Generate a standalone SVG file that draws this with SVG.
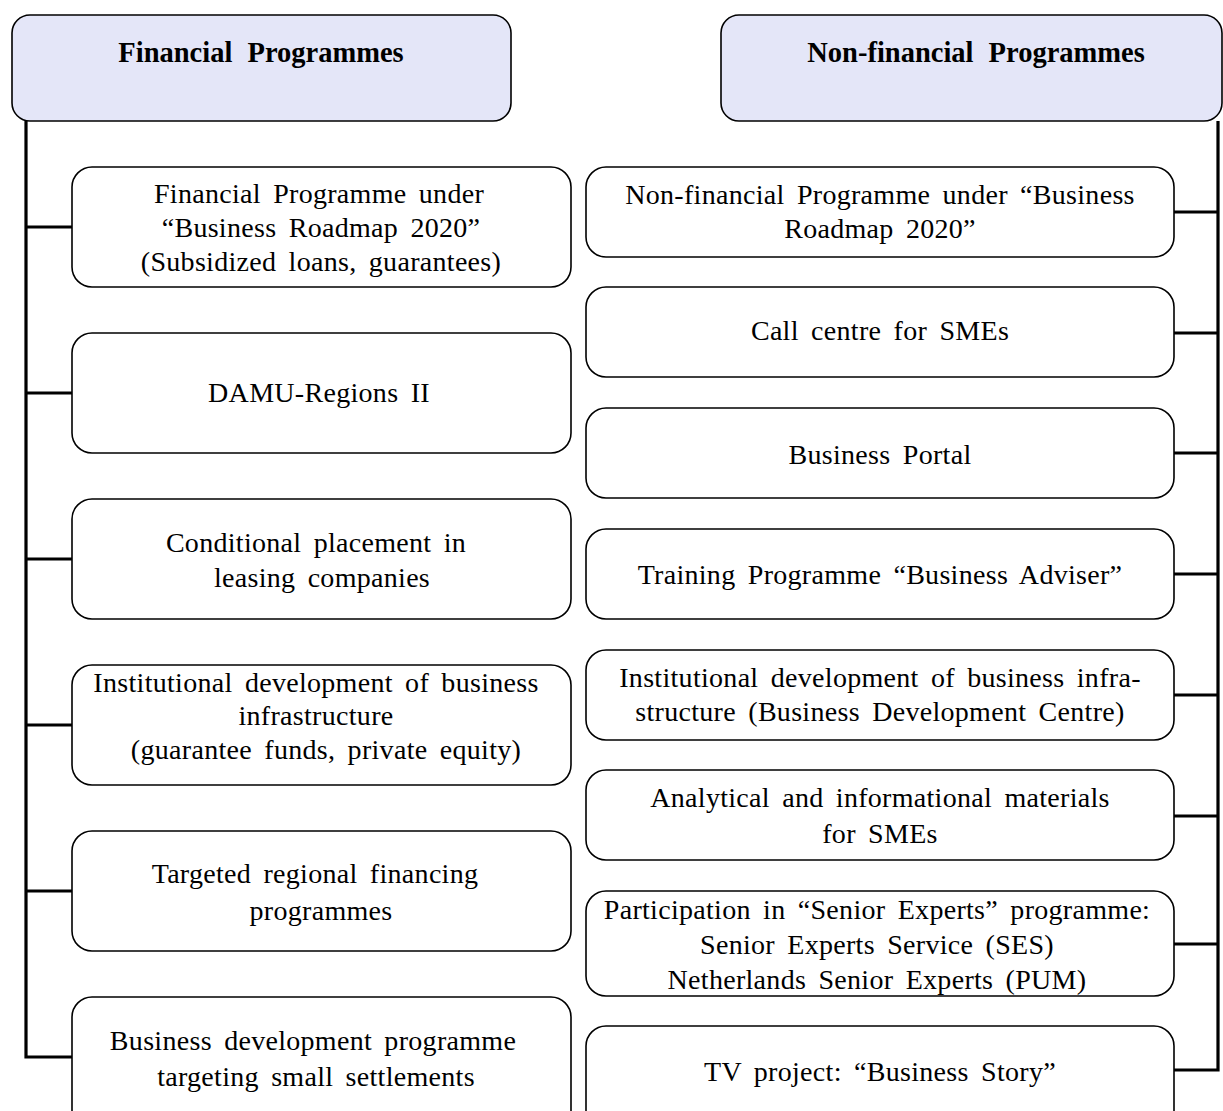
<svg xmlns="http://www.w3.org/2000/svg" width="1223" height="1111" viewBox="0 0 1223 1111">
<style>
.hdr{fill:#e4e6f8;stroke:#000;stroke-width:1.6}
.box{fill:#fff;stroke:#000;stroke-width:1.6}
.ht{font-family:"Liberation Serif","Times New Roman",serif;font-weight:bold;font-size:28.5px;text-anchor:middle;word-spacing:8px}
.t{font-family:"Liberation Serif","Times New Roman",serif;font-size:28px;text-anchor:middle;word-spacing:5px;letter-spacing:0.3px}
.c{fill:none;stroke:#000;stroke-width:3.2}
</style>
<rect width="1223" height="1111" fill="#fff"/>
<g id="connectors">
<path class="c" d="M26 121 V1057 H72"/>
<path class="c" d="M26 227 H72 M26 393 H72 M26 559 H72 M26 725 H72 M26 891 H72"/>
<path class="c" d="M1218 121 V1070 H1174"/>
<path class="c" d="M1218 212 H1174 M1218 333 H1174 M1218 453 H1174 M1218 574 H1174 M1218 695 H1174 M1218 816 H1174 M1218 944 H1174"/>
</g>
<g id="hdr-fin"><rect class="hdr" x="12" y="15" width="499" height="106" rx="18"/><text class="ht" x="261" y="62">Financial Programmes</text></g>
<g id="hdr-nonfin"><rect class="hdr" x="721" y="15" width="501" height="106" rx="18"/><text class="ht" x="976" y="62">Non-financial Programmes</text></g>

<g id="f1"><rect class="box" x="72" y="167" width="499" height="120" rx="20"/>
<text class="t" x="319" y="203">Financial Programme under</text>
<text class="t" x="321" y="237">“Business Roadmap 2020”</text>
<text class="t" x="321" y="271">(Subsidized loans, guarantees)</text></g>
<g id="f2"><rect class="box" x="72" y="333" width="499" height="120" rx="20"/>
<text class="t" x="319" y="402">DAMU-Regions II</text></g>
<g id="f3"><rect class="box" x="72" y="499" width="499" height="120" rx="20"/>
<text class="t" x="316" y="552">Conditional placement in</text>
<text class="t" x="322" y="587">leasing companies</text></g>
<g id="f4"><rect class="box" x="72" y="665" width="499" height="120" rx="20"/>
<text class="t" x="316" y="692">Institutional development of business</text>
<text class="t" x="316" y="725">infrastructure</text>
<text class="t" x="326" y="759">(guarantee funds, private equity)</text></g>
<g id="f5"><rect class="box" x="72" y="831" width="499" height="120" rx="20"/>
<text class="t" x="315" y="883">Targeted regional financing</text>
<text class="t" x="321" y="920">programmes</text></g>
<g id="f6"><rect class="box" x="72" y="997" width="499" height="140" rx="20"/>
<text class="t" x="313" y="1050">Business development programme</text>
<text class="t" x="316" y="1086">targeting small settlements</text></g>

<g id="n1"><rect class="box" x="586" y="167" width="588" height="90" rx="20"/>
<text class="t" x="880" y="204">Non-financial Programme under “Business</text>
<text class="t" x="880" y="238">Roadmap 2020”</text></g>
<g id="n2"><rect class="box" x="586" y="287" width="588" height="90" rx="20"/>
<text class="t" x="880" y="340">Call centre for SMEs</text></g>
<g id="n3"><rect class="box" x="586" y="408" width="588" height="90" rx="20"/>
<text class="t" x="880" y="464">Business Portal</text></g>
<g id="n4"><rect class="box" x="586" y="529" width="588" height="90" rx="20"/>
<text class="t" x="880" y="584">Training Programme “Business Adviser”</text></g>
<g id="n5"><rect class="box" x="586" y="650" width="588" height="90" rx="20"/>
<text class="t" x="880" y="687">Institutional development of business infra-</text>
<text class="t" x="880" y="721">structure (Business Development Centre)</text></g>
<g id="n6"><rect class="box" x="586" y="770" width="588" height="90" rx="20"/>
<text class="t" x="880" y="807">Analytical and informational materials</text>
<text class="t" x="880" y="843">for SMEs</text></g>
<g id="n7"><rect class="box" x="586" y="891" width="588" height="105" rx="20"/>
<text class="t" x="877" y="919">Participation in “Senior Experts” programme:</text>
<text class="t" x="877" y="954">Senior Experts Service (SES)</text>
<text class="t" x="877" y="989">Netherlands Senior Experts (PUM)</text></g>
<g id="n8"><rect class="box" x="586" y="1026" width="588" height="120" rx="20"/>
<text class="t" x="880" y="1081">TV project: “Business Story”</text></g>
</svg>
